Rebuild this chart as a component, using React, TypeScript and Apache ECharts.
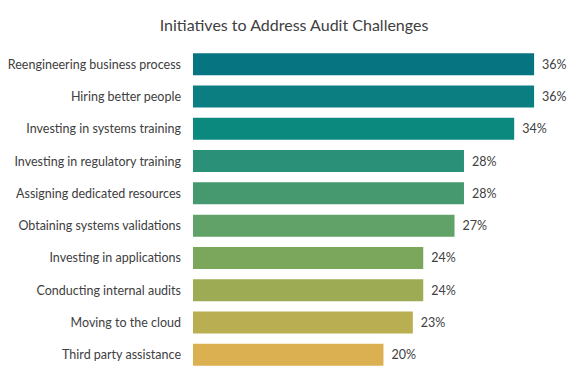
import React, { useEffect, useRef } from "react";
import * as echarts from "echarts";

const categories = [
  "Reengineering business process",
  "Hiring better people",
  "Investing in systems training",
  "Investing in regulatory training",
  "Assigning dedicated resources",
  "Obtaining systems validations",
  "Investing in applications",
  "Conducting internal audits",
  "Moving to the cloud",
  "Third party assistance",
];
// bar lengths
const values = [36, 36, 33.9, 28.6, 28.6, 27.6, 24.3, 24.3, 23.2, 20.1];
// printed labels
const valueLabels = ["36%", "36%", "34%", "28%", "28%", "27%", "24%", "24%", "23%", "20%"];
const barColors = [
  "#077482",
  "#0a7e80",
  "#0b897e",
  "#2a9178",
  "#46996f",
  "#60a267",
  "#7ba75c",
  "#9dab55",
  "#b9ae51",
  "#dbb050",
];

export default function App() {
  const ref = useRef<HTMLDivElement>(null);
  useEffect(() => {
    const chart = echarts.init(ref.current!, null, { renderer: "svg" });
    chart.setOption({
      animation: false,
      title: {
        text: "Initiatives to Address Audit Challenges",
        left: "center",
        top: 11,
        textStyle: {
          fontFamily: "Lato",
          fontSize: 16,
          fontWeight: "normal",
          color: "#404040",
        },
      },
      grid: { left: 193, right: 16, top: 48, bottom: 15, containLabel: false },
      xAxis: {
        type: "value",
        min: 0,
        max: 40,
        show: false,
      },
      yAxis: {
        type: "category",
        data: categories,
        inverse: true,
        axisLine: { show: false },
        axisTick: { show: false },
        axisLabel: {
          fontFamily: "Lato",
          fontSize: 12.5,
          color: "#404040",
          margin: 12,
        },
      },
      series: [
        {
          type: "bar",
          data: values.map((v, i) => ({ value: v, itemStyle: { color: barColors[i] } })),
          barCategoryGap: "32%",
          label: {
            show: true,
            position: "right",
            distance: 8,
            formatter: (p: any) => valueLabels[p.dataIndex],
            fontFamily: "Lato",
            fontSize: 12.5,
            color: "#404040",
          },
        },
      ],
    });
    return () => chart.dispose();
  }, []);
  return <div ref={ref} style={{ width: 588, height: 386, margin: -8 }} />;
}
